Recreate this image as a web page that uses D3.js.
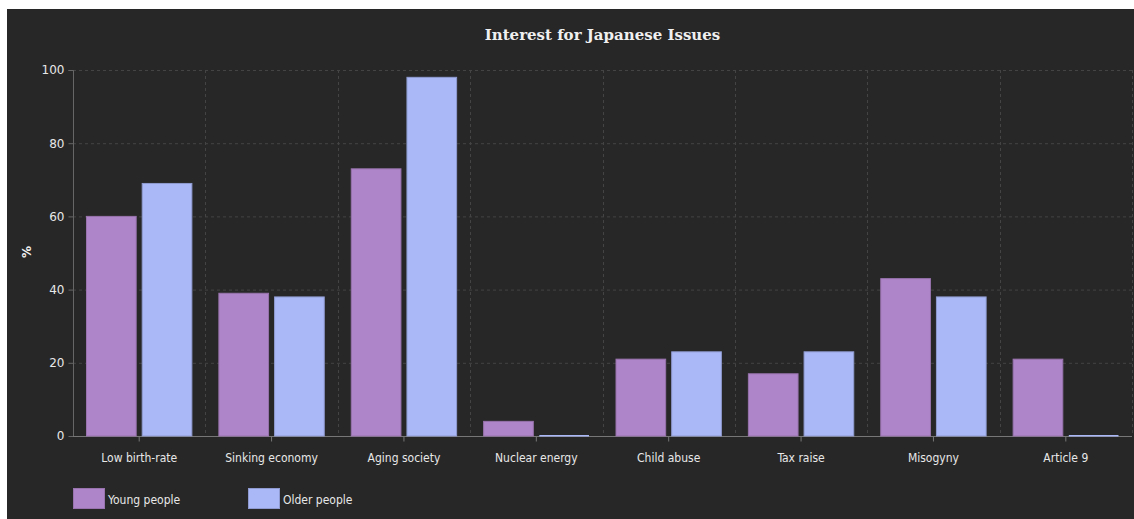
<!DOCTYPE html>
<html><head><meta charset="utf-8">
<script src="https://cdn.jsdelivr.net/npm/d3@7"></script>
<style>
html,body{margin:0;padding:0;background:#fff;}
svg{display:block;}
</style></head>
<body>
<script>
const categories = ["Low birth-rate","Sinking economy","Aging society","Nuclear energy","Child abuse","Tax raise","Misogyny","Article 9"];
const seriesNames = ["Young people","Older people"];
const young = [60,39,73,4,21,17,43,21];
const older = [69,38,98,0,23,23,38,0];
const yTicks = [0,20,40,60,80,100];
const colors = ["#af85c9","#aab8f7"];
const strokes = ["#9873ad","#8f9bd0"];

const W=1134,H=519;
const svg=d3.select("body").append("svg").attr("width",W).attr("height",H);
svg.append("rect").attr("x",7).attr("y",9).attr("width",W-7).attr("height",H-9).attr("fill","#272727");

const m={l:73,r:1132,t:70,b:436};
const x=d3.scaleBand().domain(categories).range([m.l,m.r]).paddingInner(0).paddingOuter(0);
const x1=d3.scaleBand().domain(seriesNames).range([13,x.bandwidth()-13]).paddingInner(0.09);
const y=d3.scaleLinear().domain([0,100]).range([m.b,m.t]);

const g=svg.append("g");
g.selectAll(".hg").data(yTicks.filter(d=>d>0)).join("line")
 .attr("x1",m.l).attr("x2",m.r).attr("y1",d=>y(d)+0.5).attr("y2",d=>y(d)+0.5)
 .attr("stroke","#444").attr("stroke-dasharray","3,3");
g.selectAll(".vg").data(categories).join("line")
 .attr("x1",(d,i)=>Math.round(x(d)+x.bandwidth())+0.5)
 .attr("x2",(d,i)=>Math.round(x(d)+x.bandwidth())+0.5)
 .attr("y1",m.t).attr("y2",m.b).attr("stroke","#444").attr("stroke-dasharray","3,3");

const yAxis=d3.axisLeft(y).tickValues(yTicks).tickSize(5).tickPadding(4);
const ya=svg.append("g").attr("transform",`translate(${m.l+0.5},0)`).call(yAxis);
ya.select(".domain").attr("stroke","#666").attr("d",`M-5,${y(100)+0.5}H0V${y(0)}`);
ya.selectAll(".tick line").attr("stroke","#666");
ya.selectAll("text").attr("fill","#e8e8e8").style("font-family","'DejaVu Sans'").style("font-size","12px");

const xAxis=d3.axisBottom(x).tickSize(5).tickPadding(12);
const xa=svg.append("g").attr("transform",`translate(0,${m.b+0.5})`).call(xAxis);
xa.select(".domain").attr("stroke","#777").attr("d",`M${m.l},0H${m.r}`);
xa.selectAll(".tick line").attr("stroke","#777");
xa.selectAll("text").attr("fill","#e8e8e8").style("font-family","'DejaVu Sans Condensed','DejaVu Sans'").style("font-size","12px");

const data=categories.map((c,i)=>({c,vals:[young[i],older[i]]}));
const bars=svg.append("g");
const grp=bars.selectAll(".cat").data(data).join("g").attr("transform",d=>`translate(${x(d.c)},0)`);
grp.selectAll("rect").data(d=>d.vals.map((v,j)=>({v,s:seriesNames[j],j}))).join("rect")
 .attr("x",d=>x1(d.s)+0.5).attr("width",x1.bandwidth()-1)
 .attr("y",d=>d.v===0?y(0)-1:y(d.v)).attr("height",d=>d.v===0?1.5:y(0)-y(d.v))
 .attr("fill",d=>colors[d.j]).attr("stroke",d=>strokes[d.j]).attr("stroke-width",d=>d.v===0?0:1);

svg.append("text").attr("x",(m.l+m.r)/2).attr("y",40).attr("text-anchor","middle")
 .attr("fill","#f0f0f0").style("font-family","'DejaVu Serif'").style("font-weight","bold").style("font-size","15px")
 .text("Interest for Japanese Issues");

svg.append("text").attr("transform","translate(31,252) rotate(-90)").attr("text-anchor","middle")
 .attr("fill","#f0f0f0").style("font-family","'DejaVu Sans'").style("font-weight","bold").style("font-size","12px").text("%");

const lg=svg.append("g");
const lx=[73,248];
seriesNames.forEach((s,i)=>{
  lg.append("rect").attr("x",lx[i]+0.5).attr("y",488.5).attr("width",31).attr("height",20)
    .attr("fill",colors[i]).attr("stroke",strokes[i]);
  lg.append("text").attr("x",lx[i]+35).attr("y",504).attr("fill","#e8e8e8")
    .style("font-family","'DejaVu Sans Condensed','DejaVu Sans'").style("font-size","12px").text(s);
});
</script>
</body></html>
